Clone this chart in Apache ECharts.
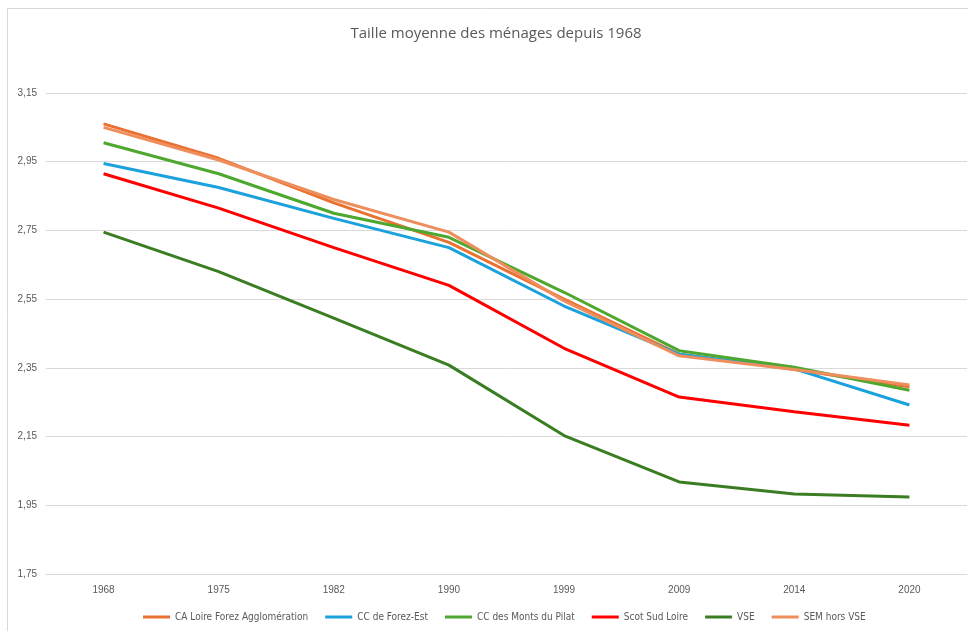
<!DOCTYPE html>
<html>
<head>
<meta charset="utf-8">
<script src="https://cdn.jsdelivr.net/npm/echarts@6/dist/echarts.min.js"></script>
<style>
  html, body { margin: 0; padding: 0; background: #fff; }
  #chart { width: 968px; height: 631px; }
</style>
</head>
<body>
<div id="chart"></div>
<script>
// années (axe des catégories)
var years = ['1968', '1975', '1982', '1990', '1999', '2009', '2014', '2020'];

// taille moyenne des ménages
var caLoireForez = [3.06, 2.96, 2.83, 2.715, 2.55, 2.39, 2.345, 2.295];
var ccForezEst = [2.945, 2.875, 2.785, 2.70, 2.53, 2.39, 2.347, 2.242];
var ccMontsPilat = [3.005, 2.915, 2.80, 2.73, 2.57, 2.40, 2.352, 2.285];
var scotSudLoire = [2.915, 2.815, 2.70, 2.59, 2.407, 2.265, 2.222, 2.183];
var vse = [2.745, 2.63, 2.495, 2.358, 2.153, 2.018, 1.983, 1.974];
var semHorsVse = [3.05, 2.955, 2.84, 2.745, 2.545, 2.385, 2.345, 2.30];

var seriesNames = ['CA Loire Forez Agglomération', 'CC de Forez-Est', 'CC des Monts du Pilat', 'Scot Sud Loire', 'VSE', 'SEM hors VSE'];
var seriesData = [caLoireForez, ccForezEst, ccMontsPilat, scotSudLoire, vse, semHorsVse];
var colors = ['#E97132', '#1BA1DC', '#4EA72E', '#FF0000', '#3A7D22', '#EE8E5C'];

var yMin = 1.75, yMax = 3.15, yStep = 0.2;

var chart = echarts.init(document.getElementById('chart'));

var option = {
    backgroundColor: '#fff',
    color: colors,
    animation: false,
    title: {
        text: 'Taille moyenne des ménages depuis 1968',
        left: 491,
        textAlign: 'center',
        top: 21,
        textStyle: {
            fontFamily: 'Open Sans',
            fontSize: 15,
            fontWeight: 'normal',
            color: '#595959'
        }
    },
    legend: {
        data: seriesNames,
        bottom: 4,
        left: 138,
        icon: 'rect',
        itemWidth: 27,
        itemHeight: 3,
        itemGap: 17,
        textStyle: {
            fontFamily: 'DejaVu Sans Condensed',
            fontStretch: 'condensed',
            fontSize: 10,
            color: '#595959'
        }
    },
    grid: {
        left: 46,
        right: 1,
        top: 93,
        bottom: 57,
        containLabel: false
    },
    xAxis: {
        type: 'category',
        data: years,
        boundaryGap: true,
        axisLine: { lineStyle: { color: '#d9d9d9' } },
        axisTick: { show: false },
        axisLabel: {
            color: '#595959',
            fontSize: 10,
            fontFamily: 'Liberation Sans',
            margin: 11
        }
    },
    yAxis: {
        type: 'value',
        min: yMin,
        max: yMax,
        interval: yStep,
        axisLine: { show: false },
        axisTick: { show: false },
        splitLine: { lineStyle: { color: '#d9d9d9', width: 1 } },
        axisLabel: {
            color: '#595959',
            fontSize: 10,
            fontFamily: 'Liberation Sans',
            margin: 9,
            formatter: function (v) { return v.toFixed(2).replace('.', ','); }
        }
    },
    // bord gris du cadre (comme sur la capture)
    graphic: [
        { type: 'line', shape: { x1: 7.5, y1: 8, x2: 7.5, y2: 631 }, style: { stroke: '#d9d9d9', lineWidth: 1 } },
        { type: 'line', shape: { x1: 7, y1: 8.5, x2: 968, y2: 8.5 }, style: { stroke: '#d9d9d9', lineWidth: 1 } }
    ],
    series: seriesNames.map(function (name, i) {
        return {
            name: name,
            type: 'line',
            data: seriesData[i],
            symbol: 'none',
            lineStyle: { width: 3, color: colors[i] }
        };
    })
};

chart.setOption(option);
</script>
</body>
</html>
